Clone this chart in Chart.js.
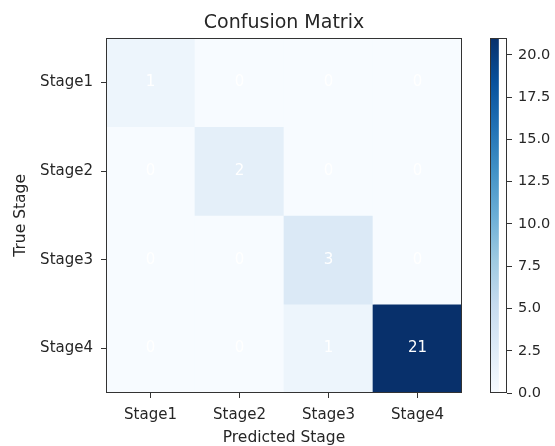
<!DOCTYPE html>
<html>
<head>
<meta charset="utf-8">
<script src="https://cdn.jsdelivr.net/npm/chart.js@4"></script>
<style>
  body { margin: 0; background: #fff; }
  #wrap { position: relative; width: 555px; height: 446px; }
  #matrix { position: absolute; left: 0; top: 0; }
  #colorbar { position: absolute; left: 470px; top: 0; }
</style>
</head>
<body>
<div id="wrap">
  <canvas id="matrix" width="555" height="446"></canvas>
  <canvas id="colorbar" width="85" height="446"></canvas>
</div>
<script>
const predictedLabels = ['Stage1', 'Stage2', 'Stage3', 'Stage4'];
const trueLabels = ['Stage1', 'Stage2', 'Stage3', 'Stage4'];

// one row per true stage, columns are predicted stages
const stage1Row = [1, 0, 0, 0];
const stage2Row = [0, 2, 0, 0];
const stage3Row = [0, 0, 3, 0];
const stage4Row = [0, 0, 1, 21];
const counts = [stage1Row, stage2Row, stage3Row, stage4Row];

const colorMin = 0;
const colorMax = 21;

// matplotlib "Blues"
const blues = ['#f7fbff', '#deebf7', '#c6dbef', '#9ecae1', '#6baed6',
               '#4292c6', '#2171b5', '#08519c', '#08306b'];

const fontFamily = '"DejaVu Sans", sans-serif';
const textColor = '#262626';
const lineColor = '#333333';

function hexToRgb(h) {
    return [1, 3, 5].map(i => parseInt(h.slice(i, i + 2), 16));
}

function cellColor(v) {
    let t = (v - colorMin) / (colorMax - colorMin);
    t = Math.max(0, Math.min(1, t)) * (blues.length - 1);
    const i = Math.min(Math.floor(t), blues.length - 2);
    const f = t - i;
    const a = hexToRgb(blues[i]);
    const b = hexToRgb(blues[i + 1]);
    const c = a.map((x, k) => Math.round(x + (b[k] - x) * f));
    return `rgb(${c[0]}, ${c[1]}, ${c[2]})`;
}

// frame around the plot area, like matplotlib spines
const frame = {
    id: 'frame',
    afterDatasetsDraw(chart) {
        const { ctx, chartArea: a } = chart;
        ctx.save();
        ctx.strokeStyle = lineColor;
        ctx.lineWidth = 1;
        ctx.strokeRect(Math.round(a.left) + 0.5, Math.round(a.top) + 0.5,
                       Math.round(a.right - a.left) - 1, Math.round(a.bottom - a.top) - 1);
        ctx.restore();
    }
};

// count written in each cell
const cellText = {
    id: 'cellText',
    afterDatasetsDraw(chart) {
        const { ctx, scales } = chart;
        ctx.save();
        ctx.font = `15px ${fontFamily}`;
        ctx.fillStyle = '#ffffff';
        ctx.textAlign = 'center';
        ctx.textBaseline = 'middle';
        counts.forEach((row, r) => {
            row.forEach((v, c) => {
                const x = scales.x.getPixelForValue(c);
                const y = scales.y.getPixelForValue(r + 0.5);
                ctx.fillText(String(v), x, y);
            });
        });
        ctx.restore();
    }
};

const datasets = counts.map((row, r) => ({
    label: trueLabels[r],
    data: predictedLabels.map(() => [r, r + 1]),
    backgroundColor: row.map(cellColor),
    borderWidth: 0,
    barPercentage: 1,
    categoryPercentage: 1,
    grouped: false
}));

new Chart(document.getElementById('matrix'), {
    type: 'bar',
    data: { labels: predictedLabels, datasets: datasets },
    options: {
        responsive: false,
        animation: false,
        layout: { padding: { left: 0, right: 93, top: 0, bottom: 0 } },
        plugins: {
            legend: { display: false },
            tooltip: { enabled: false },
            title: {
                display: true,
                text: 'Confusion Matrix',
                fullSize: false,
                color: textColor,
                font: { family: fontFamily, size: 19, weight: 'normal' },
                padding: { top: 12, bottom: 3 }
            }
        },
        scales: {
            x: {
                type: 'category',
                offset: true,
                afterFit: s => { s.height = 53; },
                border: { display: false },
                grid: { drawOnChartArea: false, offset: false, tickLength: 5, color: lineColor, tickColor: lineColor },
                ticks: { color: textColor, padding: 8, maxRotation: 0, font: { family: fontFamily, size: 15 } },
                title: {
                    display: true, text: 'Predicted Stage', color: textColor,
                    font: { family: fontFamily, size: 15.5 }, padding: { top: 0, bottom: -1 }
                }
            },
            y: {
                type: 'linear',
                min: 0,
                max: 4,
                reverse: true,
                afterFit: s => { s.width = 106; },
                afterBuildTicks: s => { s.ticks = trueLabels.map((_, i) => ({ value: i + 0.5 })); },
                border: { display: false },
                grid: { drawOnChartArea: false, tickLength: 5, color: lineColor, tickColor: lineColor },
                ticks: {
                    color: textColor, padding: 8, font: { family: fontFamily, size: 15 },
                    callback: (v, i) => trueLabels[i]
                },
                title: {
                    display: true, text: 'True Stage', color: textColor,
                    font: { family: fontFamily, size: 15.5 }, padding: { top: 12, bottom: 0 }
                }
            }
        }
    },
    plugins: [cellText, frame]
});

// colour bar
new Chart(document.getElementById('colorbar'), {
    type: 'bar',
    data: {
        labels: [''],
        datasets: [{
            data: [[colorMin, colorMax]],
            borderWidth: 0,
            barPercentage: 1,
            categoryPercentage: 1,
            backgroundColor: (ctx) => {
                const { chart } = ctx;
                const area = chart.chartArea;
                if (!area) return blues[0];
                const g = chart.ctx.createLinearGradient(0, area.bottom, 0, area.top);
                blues.forEach((c, i) => g.addColorStop(i / (blues.length - 1), c));
                return g;
            }
        }]
    },
    options: {
        responsive: false,
        animation: false,
        layout: { padding: { left: 20, right: 0, top: 38, bottom: 53 } },
        plugins: { legend: { display: false }, tooltip: { enabled: false } },
        scales: {
            x: { display: false, offset: false },
            y: {
                position: 'right',
                min: colorMin,
                max: colorMax,
                afterFit: s => { s.width = 48; },
                border: { display: false },
                grid: { drawOnChartArea: false, tickLength: 5, color: lineColor, tickColor: lineColor },
                ticks: {
                    stepSize: 2.5, includeBounds: false, color: textColor, padding: 6,
                    font: { family: fontFamily, size: 14.5 },
                    callback: v => v.toFixed(1)
                }
            }
        }
    },
    plugins: [frame]
});
</script>
</body>
</html>
